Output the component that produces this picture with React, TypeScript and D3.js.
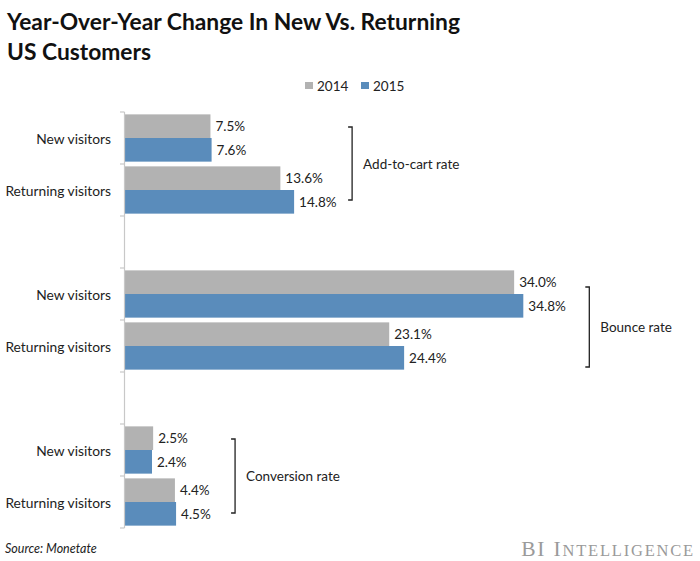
import React from "react";
import * as d3 from "d3";

const titleLines = ["Year-Over-Year Change In New Vs. Returning", "US Customers"];
const groups = ["Add-to-cart rate", "Bounce rate", "Conversion rate"];
const visitorTypes = ["New visitors", "Returning visitors"];
const seriesNames = ["2014", "2015"];
const values2014 = [7.5, 13.6, 34.0, 23.1, 2.5, 4.4];
const values2015 = [7.6, 14.8, 34.8, 24.4, 2.4, 4.5];
const sourceText = "Source: Monetate";

const W = 700;
const H = 561;
const COLORS = ["#b2b2b2", "#5a8cbb"];
const FONT = "Lato, 'Open Sans', sans-serif";

export default function App() {
  const slots: string[] = [];
  groups.forEach((g, gi) => {
    visitorTypes.forEach((v) => slots.push(`${g}|${v}`));
    if (gi < groups.length - 1) slots.push(`gap${gi}`);
  });

  const y = d3.scaleBand<string>().domain(slots).range([112, 528]).padding(0);
  const x = d3.scaleLinear().domain([0, 40]).range([124.5, 124.5 + 40 * 11.46]);
  const inner = d3
    .scaleBand<string>()
    .domain(seriesNames)
    .range([0, y.bandwidth()])
    .paddingOuter(0.1)
    .paddingInner(0);

  const fmt = (v: number) => d3.format(".1f")(v) + "%";
  const series = [values2014, values2015];

  const rows: { key: string; label: string; idx: number; group: number }[] = [];
  groups.forEach((g, gi) => {
    visitorTypes.forEach((v, vi) => {
      rows.push({ key: `${g}|${v}`, label: v, idx: gi * 2 + vi, group: gi });
    });
  });

  const ticks = slots.map((s) => y(s)!).concat([y.range()[1]]);
  const bracketOffsets = [58, 66, 59];
  const bracketTop = [15, 19, 15];
  const bracketBottom = [16, 5, 15];

  return (
    <svg
      width={W}
      height={H}
      style={{ position: "absolute", left: 0, top: 0, background: "#fff" }}
      fontFamily={FONT}
    >
      <rect x={0} y={0} width={W} height={H} fill="#fff" />
      {titleLines.map((t, i) => (
        <text key={i} x={7} y={29.5 + i * 30} fontSize={22.8} fontWeight={700} fill="#111">
          {t}
        </text>
      ))}

      {seriesNames.map((s, i) => {
        const lx = 305 + i * 56;
        return (
          <g key={s}>
            <rect x={lx} y={82} width={8} height={7} fill={COLORS[i]} />
            <text x={lx + 12} y={85.5} fontSize={13.5} dominantBaseline="central" fill="#222">
              {s}
            </text>
          </g>
        );
      })}

      {rows.map((r) => (
        <g key={r.key}>
          {seriesNames.map((s, si) => {
            const v = series[si][r.idx];
            const by = y(r.key)! + inner(s)!;
            return (
              <g key={s}>
                <rect
                  x={x(0)}
                  y={by}
                  width={x(v) - x(0)}
                  height={inner.bandwidth()}
                  fill={COLORS[si]}
                />
                <text
                  x={x(v) + 5}
                  y={by + inner.bandwidth() / 2}
                  fontSize={13.5}
                  dominantBaseline="central"
                  fill="#222"
                >
                  {fmt(v)}
                </text>
              </g>
            );
          })}
          <text
            x={111}
            y={y(r.key)! + y.bandwidth() / 2}
            fontSize={13.8}
            textAnchor="end"
            dominantBaseline="central"
            fill="#222"
          >
            {r.label}
          </text>
        </g>
      ))}

      <line x1={x(0)} x2={x(0)} y1={y.range()[0]} y2={y.range()[1]} stroke="#c8c8c8" strokeWidth={1.2} />
      {ticks.map((t, i) => (
        <line key={i} x1={x(0) - 4.5} x2={x(0)} y1={t} y2={t} stroke="#c8c8c8" strokeWidth={1.2} />
      ))}

      {groups.map((g, gi) => {
        const maxV = d3.max([0, 1].flatMap((vi) => series.map((sv) => sv[gi * 2 + vi])))!;
        const bx = x(maxV) + bracketOffsets[gi];
        const top = y(`${g}|${visitorTypes[0]}`)! + bracketTop[gi];
        const bottom = y(`${g}|${visitorTypes[1]}`)! + y.bandwidth() - bracketBottom[gi];
        return (
          <g key={g}>
            <path
              d={`M${bx - 4},${top}H${bx}V${bottom}H${bx - 4}`}
              fill="none"
              stroke="#222"
              strokeWidth={1.3}
            />
            <text
              x={bx + 11}
              y={(top + bottom) / 2}
              fontSize={13.5}
              dominantBaseline="central"
              fill="#222"
            >
              {g}
            </text>
          </g>
        );
      })}

      <text x={5} y={553} fontSize={12.5} fontStyle="italic" fill="#222">
        {sourceText}
      </text>

      <text
        x={695}
        y={556}
        textAnchor="end"
        fontFamily="'Liberation Serif', serif"
        fill="#9a9a9a"
        letterSpacing={1.8}
      >
        <tspan fontSize={21.5}>BI I</tspan>
        <tspan fontSize={16.5}>NTELLIGENCE</tspan>
      </text>
    </svg>
  );
}
